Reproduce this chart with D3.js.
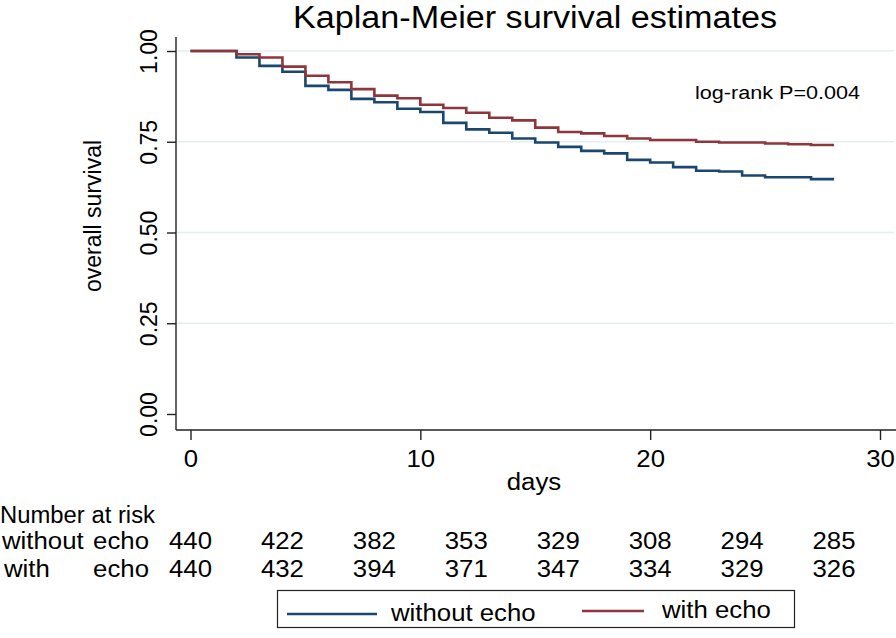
<!DOCTYPE html>
<html>
<head>
<meta charset="utf-8">
<script src="https://cdn.jsdelivr.net/npm/d3@7"></script>
<style>
  html, body { margin: 0; padding: 0; background: #fff; }
  svg { display: block; }
  text { font-family: "Liberation Sans", Arial, sans-serif; fill: #000; }
</style>
</head>
<body>
<svg id="chart" width="896" height="638"></svg>
<script>
// ---- data ----
const days = [0,1,2,3,4,5,6,7,8,9,10,11,12,13,14,15,16,17,18,19,20,21,22,23,24,25,26,27,28];
const survWithout = [1,1,0.982,0.959,0.943,0.904,0.893,0.868,0.859,0.841,0.832,0.802,0.784,0.775,0.759,0.748,0.736,0.725,0.718,0.700,0.693,0.680,0.670,0.668,0.657,0.652,0.652,0.647,0.647];
const survWith    = [1,1,0.991,0.982,0.957,0.932,0.914,0.895,0.877,0.870,0.852,0.843,0.830,0.816,0.809,0.789,0.777,0.773,0.766,0.759,0.755,0.755,0.750,0.748,0.748,0.745,0.743,0.741,0.741];
const xTicks = [0,10,20,30];
const yTicks = [0,0.25,0.5,0.75,1];
const riskDays = [0,4,8,12,16,20,24,28];
const riskWithout = [440,422,382,353,329,308,294,285];
const riskWith    = [440,432,394,371,347,334,329,326];
const seriesNames = ["without echo","with echo"];
const colors = ["#1a476f","#90353b"];
const title = "Kaplan-Meier survival estimates";
const xTitle = "days";
const yTitle = "overall survival";
const note = "log-rank P=0.004";

// ---- helpers ----
const K = 1.12; // horizontal widening of the reference's lettering
function widen(sel, k) {
  sel.each(function () {
    const L = this.getComputedTextLength();
    d3.select(this).attr("textLength", L * k).attr("lengthAdjust", "spacingAndGlyphs");
  });
  return sel;
}

// ---- layout ----
const svg = d3.select("#chart");
const x = d3.scaleLinear().domain([0,30]).range([190.5, 880]);
const y = d3.scaleLinear().domain([0,1]).range([414, 51]);
const axisX = 176, axisY = 430, plotTop = 37, plotRight = 894;

// gridlines
svg.append("g").selectAll("line").data(yTicks.filter(d => d > 0)).join("line")
  .attr("x1", axisX + 1).attr("x2", plotRight)
  .attr("y1", d => y(d)).attr("y2", d => y(d))
  .attr("stroke", "#e6eff0").attr("stroke-width", 1.6);

// y axis
const yAxis = d3.axisLeft(y).tickValues(yTicks).tickFormat(d3.format(".2f")).tickSize(9).tickSizeOuter(0);
const gy = svg.append("g").attr("transform", `translate(${axisX},0)`).call(yAxis);
gy.select(".domain").remove();
gy.append("line").attr("x1",0).attr("x2",0).attr("y1",plotTop).attr("y2",axisY).attr("stroke","#222").attr("stroke-width",1.4);
gy.selectAll(".tick line").attr("stroke","#222").attr("stroke-width",1.4);
gy.selectAll(".tick text")
  .attr("font-size", 23).attr("font-family", "Liberation Sans, Arial, sans-serif").attr("fill","#000")
  .attr("text-anchor","middle").attr("transform", "rotate(-90)")
  .attr("x", 0).attr("y", -19).attr("dy", 0);

// x axis
const xAxis = d3.axisBottom(x).tickValues(xTicks).tickFormat(d3.format("d")).tickSize(10).tickSizeOuter(0);
const gx = svg.append("g").attr("transform", `translate(0,${axisY})`).call(xAxis);
gx.select(".domain").remove();
gx.append("line").attr("x1",axisX).attr("x2",plotRight+2).attr("y1",0).attr("y2",0).attr("stroke","#222").attr("stroke-width",1.4);
gx.selectAll(".tick line").attr("stroke","#222").attr("stroke-width",1.4);
widen(gx.selectAll(".tick text")
  .attr("font-size", 23).attr("font-family", "Liberation Sans, Arial, sans-serif").attr("fill","#000")
  .attr("y", 37).attr("dy", 0), K);

// curves
const line = d3.line().x(d => x(d[0])).y(d => y(d[1])).curve(d3.curveStepAfter);
[survWithout, survWith].forEach((s, i) => {
  svg.append("path")
    .attr("d", line(days.map((d, j) => [d, s[j]])))
    .attr("fill","none").attr("stroke", colors[i]).attr("stroke-width", 2.6);
});

// titles
svg.append("text").attr("x", 535).attr("y", 28).attr("text-anchor","middle")
  .attr("font-size", 31).attr("fill","#1c2b57").attr("textLength", 484).attr("lengthAdjust","spacingAndGlyphs")
  .text(title);
widen(svg.append("text").attr("x", 534).attr("y", 490).attr("text-anchor","middle")
  .attr("font-size", 23).text(xTitle), K);
svg.append("text").attr("transform", `translate(101,216) rotate(-90)`).attr("text-anchor","middle")
  .attr("font-size", 23).text(yTitle);
svg.append("text").attr("x", 695).attr("y", 99)
  .attr("font-family","'Open Sans', 'Noto Sans', sans-serif").attr("font-size", 18)
  .attr("textLength",165).attr("lengthAdjust","spacingAndGlyphs").text(note);

// risk table
svg.append("text").attr("x", 0).attr("y", 523).attr("font-size", 23)
  .attr("textLength",155).attr("lengthAdjust","spacingAndGlyphs").text("Number at risk");
const rows = [
  {left: "without", y: 549, lx: 2, vals: riskWithout},
  {left: "with", y: 577, lx: 4, vals: riskWith}
];
rows.forEach(r => {
  widen(svg.append("text").attr("x", r.lx).attr("y", r.y).attr("font-size", 23).text(r.left), K);
  widen(svg.append("text").attr("x", 149).attr("y", r.y).attr("font-size", 23).attr("text-anchor","end").text("echo"), K);
  widen(svg.append("g").selectAll("text").data(riskDays).join("text")
    .attr("x", d => x(d)).attr("y", r.y).attr("text-anchor","middle").attr("font-size", 23)
    .text((d, i) => r.vals[i]), K);
});

// legend
const lg = svg.append("g");
lg.append("rect").attr("x", 277.5).attr("y", 590.5).attr("width", 517).attr("height", 37)
  .attr("fill","#fff").attr("stroke","#222").attr("stroke-width",1.2);
const legendItems = [
  {x1: 287, x2: 377, ly: 614, tx: 391, ty: 621},
  {x1: 582, x2: 644, ly: 611, tx: 662, ty: 618}
];
legendItems.forEach((it, i) => {
  lg.append("line").attr("x1", it.x1).attr("x2", it.x2).attr("y1", it.ly).attr("y2", it.ly)
    .attr("stroke", colors[i]).attr("stroke-width", 2.4);
  widen(lg.append("text").attr("x", it.tx).attr("y", it.ty).attr("font-size", 23).text(seriesNames[i]), K);
});
</script>
</body>
</html>
